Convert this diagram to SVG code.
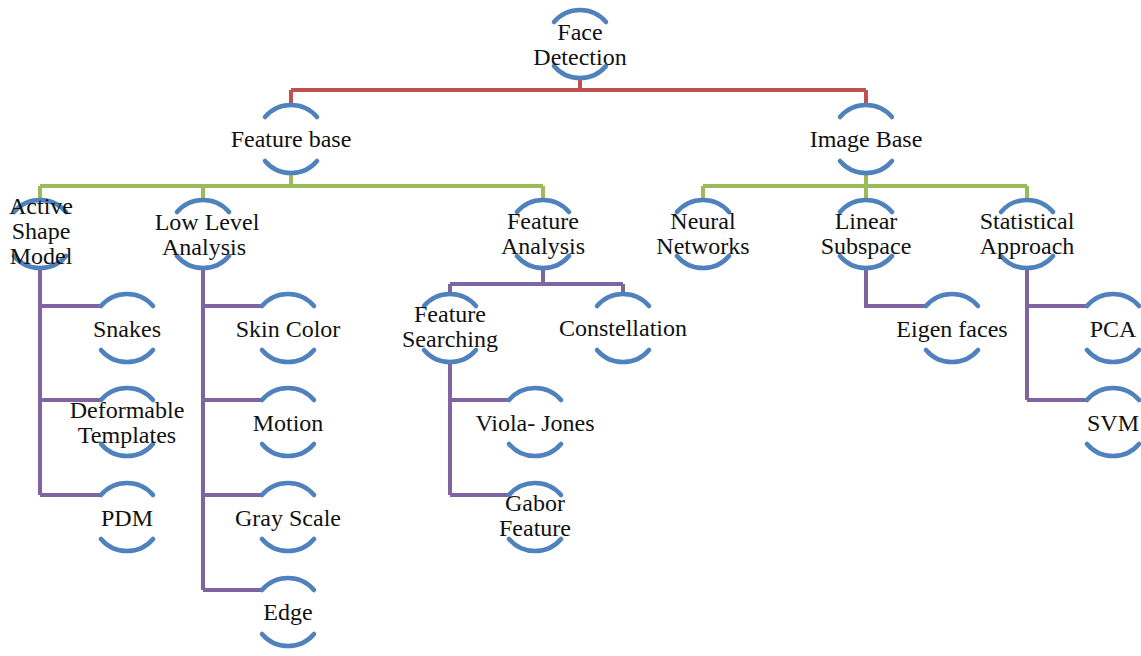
<svg xmlns="http://www.w3.org/2000/svg" xmlns:xlink="http://www.w3.org/1999/xlink" width="1141" height="656" viewBox="0 0 1141 656">
<style>
.t{font-family:"Liberation Serif","Times New Roman",serif;font-size:24px;fill:#111;text-anchor:middle}
.ring{fill:none;stroke:#4F81BD;stroke-width:4.5;stroke-linecap:round}
.r{fill:none;stroke:#C0504D;stroke-width:4}
.g{fill:none;stroke:#9BBB59;stroke-width:4}
.p{fill:none;stroke:#8064A2;stroke-width:4}
</style>
<defs>
<path id="ring" class="ring" d="M-26,-22 A34,34 0 0 1 26,-22 M-26,22 A34,34 0 0 0 26,22"/>
</defs>
<rect width="1141" height="656" fill="#fff"/>
<g id="connectors">
<path class="r" d="M580,78 V90 M291,90 H866 M291,90 V105 M866,90 V105"/>
<path class="g" d="M291,173 V186 M40,186 H543 M40,186 V200 M203,186 V200 M543,186 V200"/>
<path class="g" d="M866,173 V186 M703,186 H1027 M703,186 V200 M866,186 V200 M1027,186 V200"/>
<path class="p" d="M40,268 V495 M40,306 H101 M40,400 H101 M40,495 H101"/>
<path class="p" d="M203,268 V590 M203,306 H262 M203,400 H262 M203,495 H262 M203,590 H262"/>
<path class="p" d="M543,268 V284 M450,284 H623 M450,284 V294 M623,284 V294"/>
<path class="p" d="M450,362 V495 M450,400 H509 M450,495 H509"/>
<path class="p" d="M866,268 V306 H926"/>
<path class="p" d="M1027,268 V400 M1027,306 H1087 M1027,400 H1087"/>
</g>
<g id="face-detection"><use xlink:href="#ring" x="580" y="44"/><text class="t" x="580" y="40">Face</text><text class="t" x="580" y="65">Detection</text></g>
<g id="feature-base"><use xlink:href="#ring" x="291" y="139"/><text class="t" x="291" y="147">Feature base</text></g>
<g id="image-base"><use xlink:href="#ring" x="866" y="139"/><text class="t" x="866" y="147">Image Base</text></g>
<g id="active-shape-model"><use xlink:href="#ring" x="40" y="234"/><text class="t" x="41" y="214">Active</text><text class="t" x="41" y="239">Shape</text><text class="t" x="41" y="264">Model</text></g>
<g id="low-level-analysis"><use xlink:href="#ring" x="203" y="234"/><text class="t" x="207" y="230">Low Level</text><text class="t" x="204" y="255">Analysis</text></g>
<g id="feature-analysis"><use xlink:href="#ring" x="543" y="234"/><text class="t" x="543" y="229">Feature</text><text class="t" x="543" y="254">Analysis</text></g>
<g id="neural-networks"><use xlink:href="#ring" x="703" y="234"/><text class="t" x="703" y="229">Neural</text><text class="t" x="703" y="254">Networks</text></g>
<g id="linear-subspace"><use xlink:href="#ring" x="866" y="234"/><text class="t" x="866" y="229">Linear</text><text class="t" x="866" y="254">Subspace</text></g>
<g id="statistical-approach"><use xlink:href="#ring" x="1027" y="234"/><text class="t" x="1027" y="229">Statistical</text><text class="t" x="1027" y="254">Approach</text></g>
<g id="snakes"><use xlink:href="#ring" x="127" y="328"/><text class="t" x="127" y="337">Snakes</text></g>
<g id="deformable-templates"><use xlink:href="#ring" x="127" y="422"/><text class="t" x="127" y="418">Deformable</text><text class="t" x="127" y="443">Templates</text></g>
<g id="pdm"><use xlink:href="#ring" x="127" y="517"/><text class="t" x="127" y="526">PDM</text></g>
<g id="skin-color"><use xlink:href="#ring" x="288" y="328"/><text class="t" x="288" y="337">Skin Color</text></g>
<g id="motion"><use xlink:href="#ring" x="288" y="422"/><text class="t" x="288" y="431">Motion</text></g>
<g id="gray-scale"><use xlink:href="#ring" x="288" y="517"/><text class="t" x="288" y="526">Gray Scale</text></g>
<g id="edge"><use xlink:href="#ring" x="288" y="612"/><text class="t" x="288" y="620">Edge</text></g>
<g id="feature-searching"><use xlink:href="#ring" x="450" y="328"/><text class="t" x="450" y="322">Feature</text><text class="t" x="450" y="347">Searching</text></g>
<g id="constellation"><use xlink:href="#ring" x="623" y="328"/><text class="t" x="623" y="336">Constellation</text></g>
<g id="viola-jones"><use xlink:href="#ring" x="535" y="422"/><text class="t" x="535" y="431">Viola- Jones</text></g>
<g id="gabor-feature"><use xlink:href="#ring" x="535" y="517"/><text class="t" x="535" y="511">Gabor</text><text class="t" x="535" y="536">Feature</text></g>
<g id="eigen-faces"><use xlink:href="#ring" x="952" y="328"/><text class="t" x="952" y="337">Eigen faces</text></g>
<g id="pca"><use xlink:href="#ring" x="1113" y="328"/><text class="t" x="1113" y="337">PCA</text></g>
<g id="svm"><use xlink:href="#ring" x="1113" y="422"/><text class="t" x="1113" y="431">SVM</text></g>
</svg>
